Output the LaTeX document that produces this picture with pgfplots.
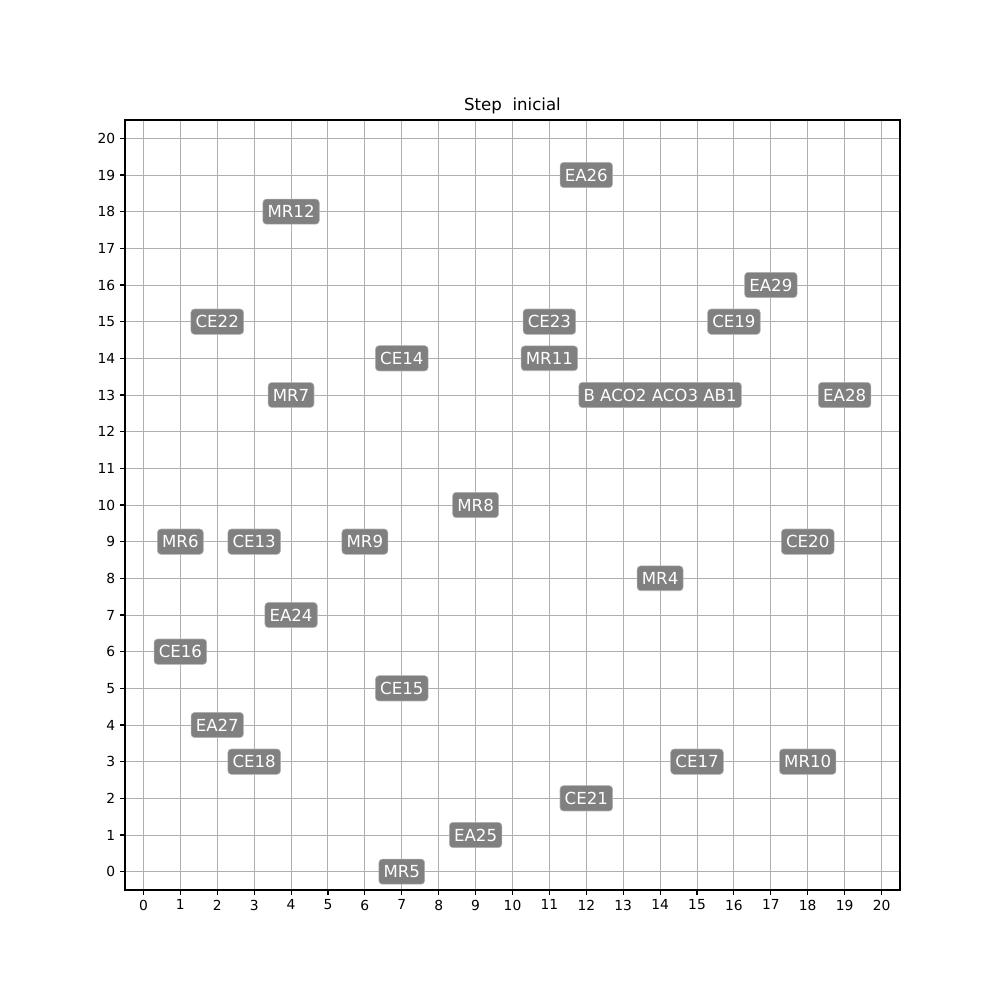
\documentclass[border=0pt]{standalone}
\usepackage{pgfplots}
\pgfplotsset{compat=1.18}
\usepackage{fontspec}
\setmainfont{DejaVu Sans}
\definecolor{gridc}{HTML}{B0B0B0}
\definecolor{boxc}{HTML}{808080}
\begin{document}
\begin{tikzpicture}
\path[use as bounding box] (-1.25in,-1.10in) rectangle (8.75in,8.90in);
\begin{axis}[
  at={(0,0)}, anchor=south west,
  scale only axis, width=7.75in, height=7.70in,
  xmin=-0.5, xmax=20.5, ymin=-0.5, ymax=20.5,
  xtick={0,...,20}, ytick={0,...,20},
  grid=major, major grid style={gridc, line width=0.7pt},
  tick align=outside, tick pos=left,
  major tick length=3.5pt,
  tick style={black, line width=0.8pt},
  axis line style={line width=0.8pt},
  ticklabel style={font=\fontsize{10}{12}\selectfont},
  /pgf/number format/assume math mode=true,
  title={Step\ \ inicial},
  title style={font=\fontsize{12}{14}\selectfont, yshift=-5pt},
  clip=false,
]
\addplot[only marks, mark=none, point meta=explicit symbolic,
  nodes near coords,
  nodes near coords align={center},
  every node near coord/.style={anchor=center, fill=boxc, draw=gray!60, line width=0.4pt, text=white, rounded corners=2.5pt, inner xsep=3.4pt, inner ysep=4.6pt, font=\fontsize{12}{14}\selectfont}]
coordinates {
(12,19) [EA26]
(4,18) [MR12]
(17,16) [EA29]
(2,15) [CE22]
(11,15) [CE23]
(16,15) [CE19]
(7,14) [CE14]
(11,14) [MR11]
(4,13) [MR7]
(14,13) [B ACO2 ACO3 AB1]
(19,13) [EA28]
(9,10) [MR8]
(1,9) [MR6]
(3,9) [CE13]
(6,9) [MR9]
(18,9) [CE20]
(14,8) [MR4]
(4,7) [EA24]
(1,6) [CE16]
(7,5) [CE15]
(2,4) [EA27]
(3,3) [CE18]
(15,3) [CE17]
(18,3) [MR10]
(12,2) [CE21]
(9,1) [EA25]
(7,0) [MR5]
};
\end{axis}
\end{tikzpicture}
\end{document}
